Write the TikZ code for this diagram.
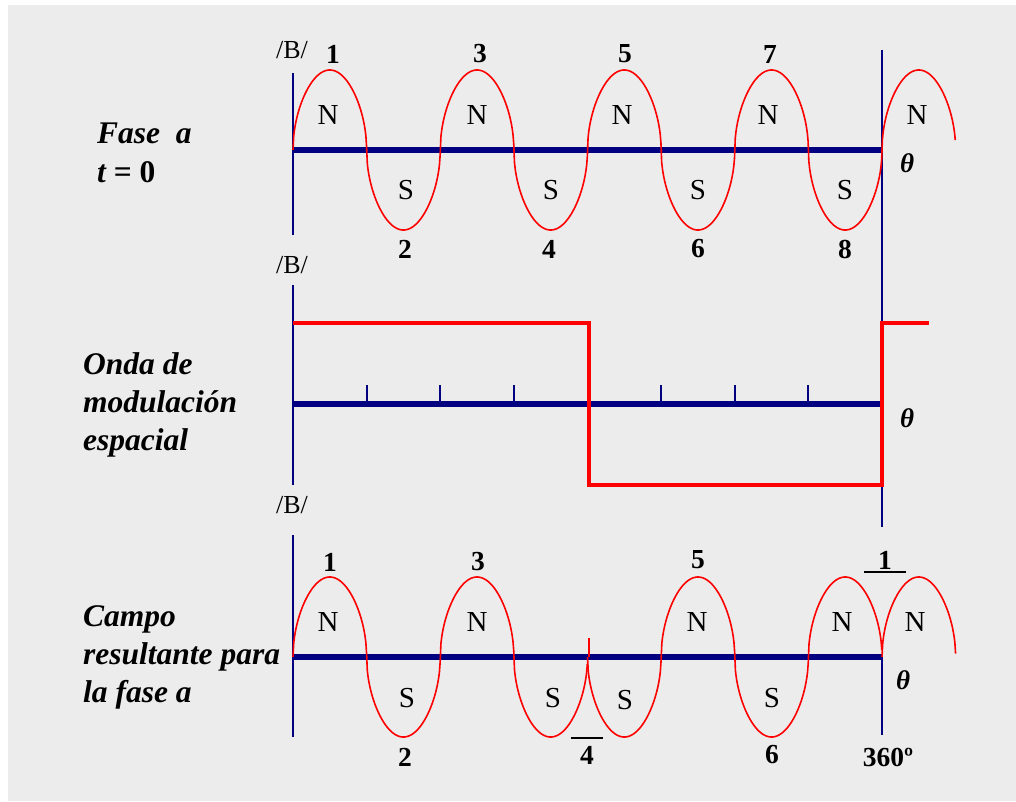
\documentclass[tikz,border=0pt]{standalone}
\usepackage{fontspec}
\setmainfont{Liberation Serif}
\usetikzlibrary{positioning}
\definecolor{axisnavy}{HTML}{000080}
\definecolor{wavered}{HTML}{FF0000}
\definecolor{paper}{HTML}{ECECEC}

\begin{document}
\begin{tikzpicture}[
  x=1pt, y=-1pt,
  font=\fontsize{26}{32}\selectfont,
  ax/.style={axisnavy, line width=1.5pt},
  base/.style={axisnavy, line width=5.5pt},
  tick/.style={axisnavy, line width=2pt},
  wave/.style={wavered, line width=1.6pt, line join=round},
  sq/.style={wavered, line width=4pt},
  bar/.style={black, line width=1.6pt},
  pole/.style={inner sep=0pt, font=\fontsize{29}{34}\selectfont},
  num/.style={inner sep=0pt, font=\fontsize{27.5}{32}\selectfont\bfseries},
  th/.style={inner sep=0pt, font=\fontsize{27}{32}\selectfont\bfseries\itshape},
  lbl/.style={inner sep=0pt, anchor=north west, align=left, font=\fontsize{31.5}{38}\selectfont\bfseries\itshape}
]
\useasboundingbox (0,0) rectangle (1016,801);
\fill[paper] (8,5) rectangle (1016,801);

% axes
\coordinate (o1) at (293,150);
\coordinate (o2) at (293,404);
\coordinate (o3) at (293,657);
\coordinate (e1) at (882,150);
\coordinate (e2) at (882,404);
\coordinate (e3) at (882,657);
\draw[ax] (293,73) -- (293,235);
\draw[ax] (293,285) -- (293,485);
\draw[ax] (293,535) -- (293,737);
\draw[ax] (882,50) -- (882,527);
\draw[ax] (e3) -- (882,735);
\draw[base] (o1) -- (e1);
\draw[base] (o2) -- (e2);
\draw[base] (o3) -- (e3);
\foreach \k in {1,...,7}
  \draw[tick] ({293+73.625*\k},404) -- ++(0,-19);

% waves (rounded humps with steep flanks)
\draw[wave] plot[domain=0:9, samples=901] ({293+73.625*\x},{150-80*sign(sin(180*\x))*sqrt(abs(sin(180*\x)))});
\draw[sq] (293,323) -- (589,323) -- (589,485) -- (882,485) -- (882,323) -- (929,323);
\draw[wave] plot[domain=0:4, samples=401] ({293+73.625*\x},{657-80*sign(sin(180*\x))*sqrt(abs(sin(180*\x)))});
\draw[wave] plot[domain=4:8, samples=401] ({293+73.625*\x},{657+80*sign(sin(180*\x))*sqrt(abs(sin(180*\x)))});
\draw[wave] plot[domain=8:9, samples=101] ({293+73.625*\x},{657-80*sign(sin(180*\x))*sqrt(abs(sin(180*\x)))});
\draw[wave] (589,657) -- (589,638);

% side texts
\node[lbl] (fase) at (97,123) {Fase\ \ a\\[1pt]t {\upshape = 0}};
\node[lbl] (onda) at (83,352) {Onda de\\modulación\\espacial};
\node[lbl] (campo) at (83,605) {Campo\\resultante para\\la fase a};

% field labels
\node[pole, font=\fontsize{26}{32}\selectfont] (b1) at (292,50) {/B/};
\node[pole, font=\fontsize{26}{32}\selectfont] (b2) at (292,265) {/B/};
\node[pole, font=\fontsize{26}{32}\selectfont] (b3) at (292,505) {/B/};

% phase a, t = 0
\node[num] (p1) at (333,54) {1};
\node[num] (p3) at (480,54) {3};
\node[num] (p5) at (625,54) {5};
\node[num] (p7) at (770,54) {7};
\node[num] (p2) at (405,249) {2};
\node[num] (p4) at (549,249) {4};
\node[num] (p6) at (698,249) {6};
\node[num] (p8) at (845,249) {8};
\node[pole] (n1) at (328,115) {N};
\node[pole] (n3) at (477,115) {N};
\node[pole] (n5) at (622,115) {N};
\node[pole] (n7) at (768,115) {N};
\node[pole] (n9) at (917,115) {N};
\node[pole] (s2) at (406,190) {S};
\node[pole] (s4) at (551,190) {S};
\node[pole] (s6) at (698,190) {S};
\node[pole] (s8) at (845,190) {S};
\node[th] (th1) at (907,163) {θ};

% modulation
\node[th] (th2) at (907,418) {θ};

% resulting field
\node[num] (r1) at (330,562) {1};
\node[num] (r3) at (478,562) {3};
\node[num] (r5) at (698,560) {5};
\node[num] (r9) at (885,560) {1};
\node[num] (r2) at (405,757) {2};
\node[num] (r4) at (587,755) {4};
\node[num] (r6) at (772,755) {6};
\node[num] (deg) at (888,757) {360º};
\node[pole] (m1) at (328,622) {N};
\node[pole] (m3) at (477,622) {N};
\node[pole] (m5) at (697,622) {N};
\node[pole] (m8) at (842,622) {N};
\node[pole] (m9) at (915,622) {N};
\node[pole] (q2) at (407,698) {S};
\node[pole] (q4) at (553,698) {S};
\node[pole] (q5) at (625,700) {S};
\node[pole] (q7) at (772,698) {S};
\node[th] (th3) at (903,680) {θ};
\draw[bar] ([xshift=-9pt,yshift=8pt]r4.north west) -- ([xshift=9pt,yshift=8pt]r4.north east);
\draw[bar] ([xshift=-14pt,yshift=-3pt]r9.south west) -- ([xshift=14pt,yshift=-3pt]r9.south east);
\end{tikzpicture}
\end{document}
